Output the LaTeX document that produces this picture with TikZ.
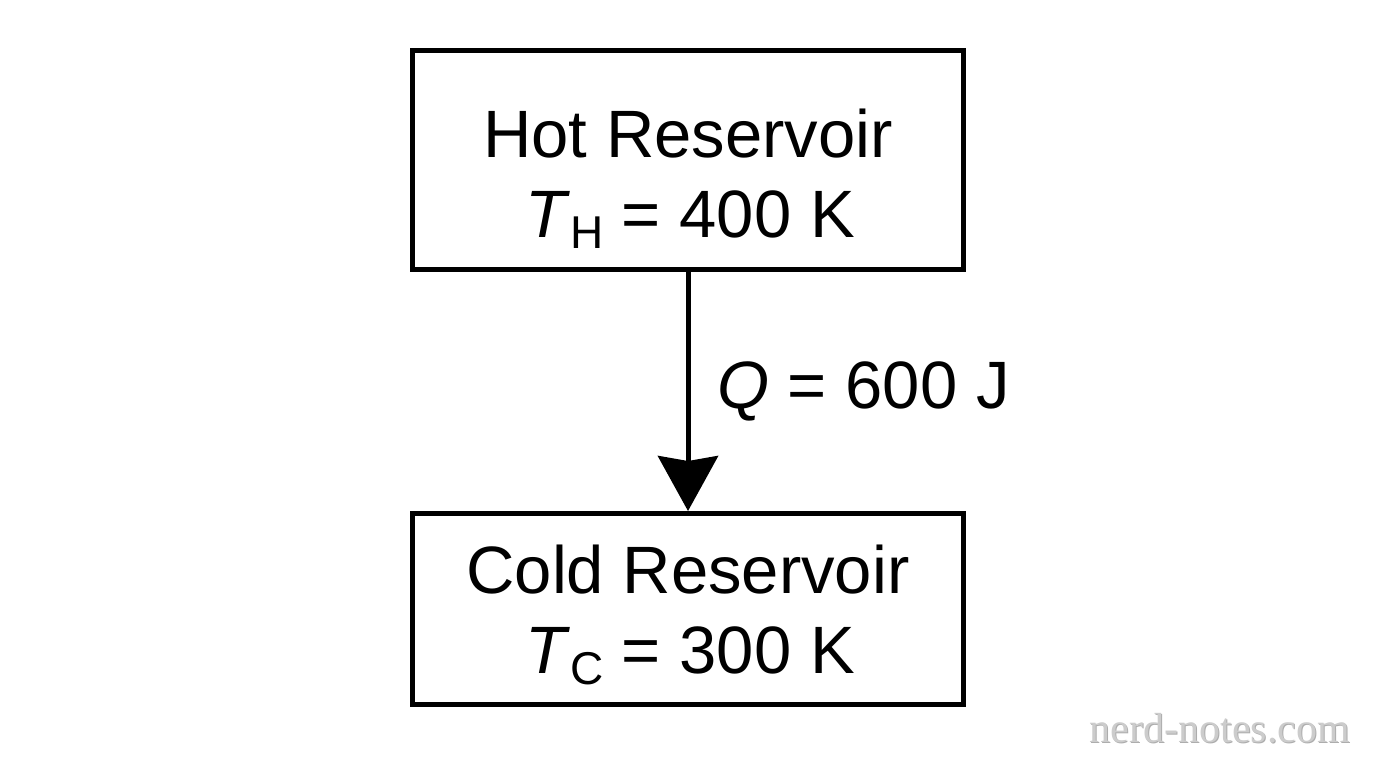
\documentclass[tikz,border=0pt]{standalone}
\usepackage{fontspec}
\setmainfont{Liberation Sans}
\newfontfamily\wmfont{Liberation Serif}
\usetikzlibrary{arrows.meta}
\newcommand{\sub}[1]{\raisebox{-11pt}{\fontsize{46}{46}\selectfont #1}}
\tikzset{
  box/.style={draw=black, line width=5pt, fill=white, minimum width=551pt, inner sep=0pt},
  big/.style={font=\fontsize{67}{80}\selectfont, inner sep=0pt},
  flow/.style={line width=5pt, -{Stealth[length=55pt, width=60pt, inset=5pt]}},
  wm/.style={font=\wmfont\fontsize{42}{42}\selectfont, text=black!20, inner sep=0pt},
  wmshadow/.style={wm, text=black!32}
}
\begin{document}
\begin{tikzpicture}[x=1pt, y=-1pt]
\useasboundingbox[fill=white] (0,0) rectangle (1376,768);
\node[box, minimum height=219pt] (hot) at (688,160) {};
\node[box, minimum height=191pt] (cold) at (688,609) {};
\node[big, anchor=base] (hotname) at (688,157) {Hot Reservoir};
\node[big, anchor=base] (hottemp) at (690,237) {\textit{T}\sub{H} = 400 K};
\node[big, anchor=base] (coldname) at (688,593) {Cold Reservoir};
\node[big, anchor=base] (coldtemp) at (690,673) {\textit{T}\sub{C} = 300 K};
\draw[flow] (hot.south) -- (cold.north);
\node[big, anchor=base west] (qlabel) at (717,408) {\textit{Q} = 600 J};
\node[wmshadow, anchor=base east] (markshadow) at (1351,743) {nerd-notes.com};
\node[wm, anchor=base east] (mark) at (1350,742) {nerd-notes.com};
\end{tikzpicture}
\end{document}
